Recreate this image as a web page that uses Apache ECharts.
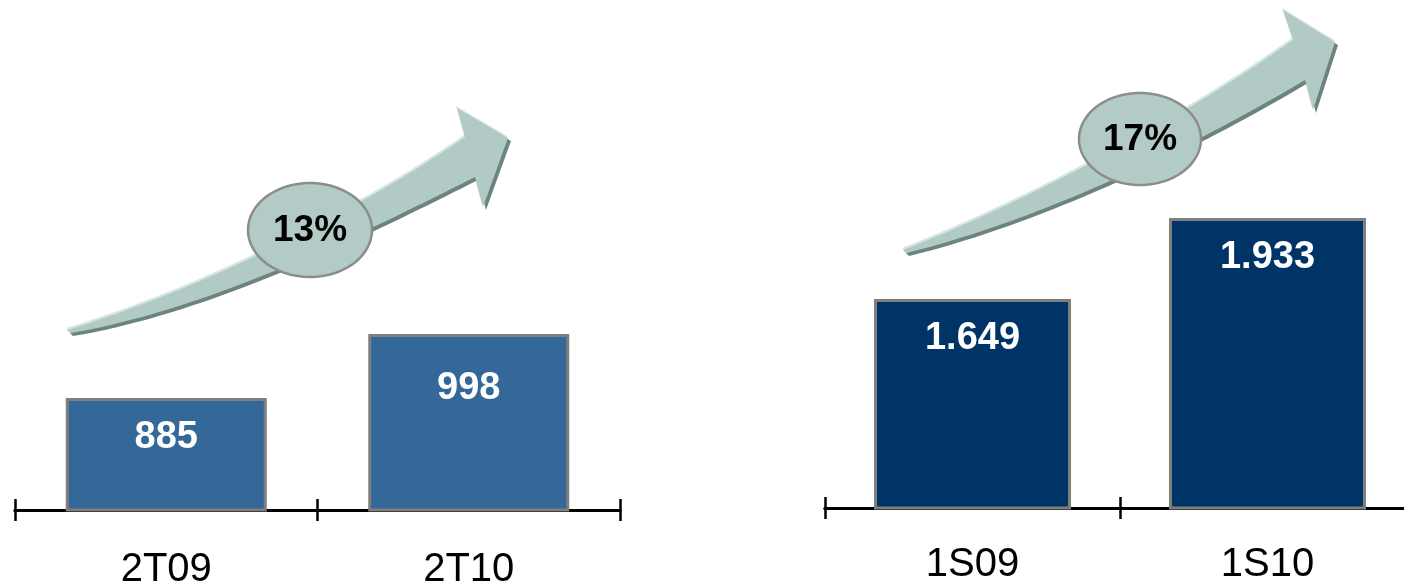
<!DOCTYPE html>
<html><head><meta charset="utf-8">
<script src="https://cdn.jsdelivr.net/npm/echarts@6/dist/echarts.min.js"></script>
<style>html,body{margin:0;padding:0;background:#fff;overflow:hidden}#c{width:1404px;height:583px}</style>
</head><body><div id="c"></div>
<script>
// ---- data ----
const leftCategories = ['2T09', '2T10'];
const leftValues = [885, 998];
const rightCategories = ['1S09', '1S10'];
const rightValues = [1649, 1933];

// ---- helpers ----
const FONT = "'Liberation Sans', Arial, sans-serif";
function fmt(v) { return String(v).replace(/\B(?=(\d{3})+(?!\d))/g, '.'); }
function growth(arr) { return Math.round((arr[arr.length - 1] / arr[0] - 1) * 100) + '%'; }
function cubic(p, n) {
  const out = [];
  for (let i = 0; i <= n; i++) {
    const t = i / n, u = 1 - t;
    const a = u * u * u, b = 3 * u * u * t, c = 3 * u * t * t, d = t * t * t;
    out.push([a * p[0][0] + b * p[1][0] + c * p[2][0] + d * p[3][0],
              a * p[0][1] + b * p[1][1] + c * p[2][1] + d * p[3][1]]);
  }
  return out;
}
function arrowPts(up, head, low) { return cubic(up, 40).concat(head, cubic(low, 40)); }
function shift(pts, dx, dy) { return pts.map(p => [p[0] + dx, p[1] + dy]); }
function ellipsePts(cx, cy, rx, ry) {
  const o = [];
  for (let i = 0; i < 90; i++) { const a = i / 90 * Math.PI * 2; o.push([cx + rx * Math.cos(a), cy + ry * Math.sin(a)]); }
  return o;
}
function arrowGroup(pts, ell, text) {
  return [
    { type: 'polygon', shape: { points: shift(pts, -1, -2) }, style: { fill: '#d6e5e1' }, z: 1 },
    { type: 'polygon', shape: { points: shift(pts, 3, 3) }, style: { fill: '#6c837e' }, z: 2 },
    { type: 'polygon', shape: { points: pts }, style: { fill: '#b1cac5' }, z: 3 },
    { type: 'polygon', shape: { points: ellipsePts(ell[0], ell[1], ell[2], ell[3]) },
      style: { fill: '#b2cbc6', stroke: '#8c8c8c', lineWidth: 2.5 }, z: 4 },
    { type: 'text', x: ell[0], y: ell[1] + 1, z: 5,
      style: { text: text, fill: '#000', font: "bold 37px " + FONT, align: 'center', verticalAlign: 'middle' } }
  ];
}

const leftArrow = arrowPts(
  [[67, 330], [200, 290], [360, 210], [465, 137]],
  [[457, 108], [508, 138], [483, 207]],
  [[475, 177], [370, 230], [210, 310], [70, 333]]);
const rightArrow = arrowPts(
  [[903, 250], [1030, 200], [1180, 120], [1293, 40]],
  [[1283, 10], [1335, 42], [1313, 110]],
  [[1305, 80], [1210, 137], [1050, 218], [906, 253]]);

const leftLabelDist = [21, 35];
const rightLabelDist = [21, 21];

function xAxes(gridIndex, cats, inside, showLabel, margin) {
  return {
    type: 'category', gridIndex: gridIndex, data: cats, position: 'bottom', offset: 0,
    axisLine: { show: true, lineStyle: { color: '#000', width: 3 } },
    axisTick: { show: true, inside: inside, length: 11, lineStyle: { color: '#000', width: 2.5 } },
    axisLabel: { show: showLabel, margin: margin, color: '#000', fontSize: 40, fontFamily: FONT },
    splitLine: { show: false }
  };
}
function yAxis(gridIndex, min, max) {
  return { type: 'value', gridIndex: gridIndex, min: min, max: max, show: false, splitLine: { show: false } };
}
function barSeries(idx, vals, color, dists, width) {
  return {
    type: 'bar', xAxisIndex: idx * 2, yAxisIndex: idx, barWidth: width,
    data: vals.map((v, i) => ({ value: v, label: { distance: dists[i] } })),
    itemStyle: { color: color, borderColor: '#7f7f7f', borderWidth: 3 },
    label: { show: true, position: 'insideTop', color: '#fff', fontSize: 38, fontWeight: 'bold',
             fontFamily: FONT, formatter: p => fmt(p.value) },
    z: 6
  };
}

const chart = echarts.init(document.getElementById('c'), null, { renderer: 'canvas' });
chart.setOption({
  animation: false,
  backgroundColor: '#fff',
  grid: [
    { left: 15, width: 605, top: 110, bottom: 73, containLabel: false, outerBoundsMode: 'none' },
    { left: 825, width: 590, top: 48, bottom: 75, containLabel: false, outerBoundsMode: 'none' }
  ],
  xAxis: [
    xAxes(0, leftCategories, false, true, 40),
    xAxes(0, leftCategories, true, false, 40),
    xAxes(1, rightCategories, false, true, 37),
    xAxes(1, rightCategories, true, false, 37)
  ],
  yAxis: [yAxis(0, 687, 1394), yAxis(1, 916, 2529)],
  series: [
    barSeries(0, leftValues, '#346899', leftLabelDist, 201),
    barSeries(1, rightValues, '#003366', rightLabelDist, 197)
  ],
  graphic: arrowGroup(leftArrow, [310, 230, 62, 47], growth(leftValues))
    .concat(arrowGroup(rightArrow, [1140, 139, 61, 46], growth(rightValues)))
});
</script>
</body></html>
